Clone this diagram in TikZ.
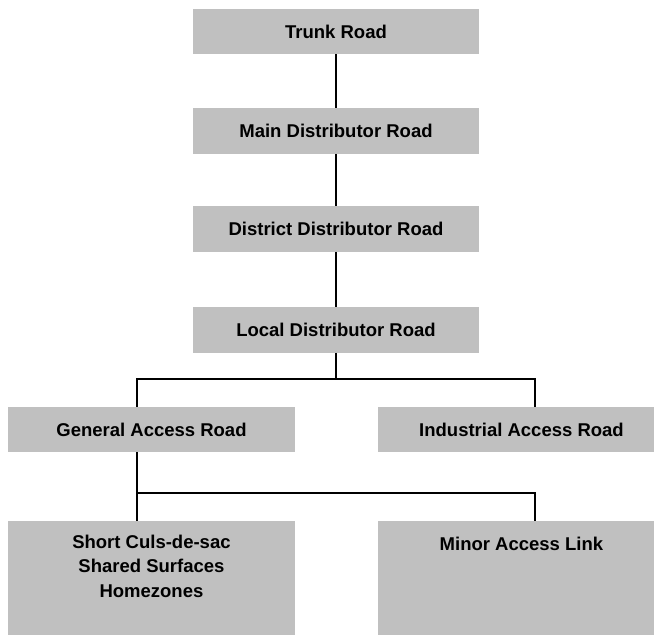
\documentclass[tikz,border=0pt]{standalone}
\usepackage{fontspec}
\setmainfont{Liberation Sans}
\definecolor{boxgray}{RGB}{192,192,192}
\begin{document}
\begin{tikzpicture}[x=1pt,y=-1pt,
  lbl/.style={font=\bfseries\fontsize{18.5}{24.3}\selectfont, align=center},
  roadbox/.style={fill=boxgray, minimum width=286.5pt, minimum height=45.5pt, inner sep=0pt, lbl},
  tallbox/.style={fill=boxgray, minimum width=286.5pt, minimum height=125pt, inner sep=0pt, anchor=north west},
  link/.style={line width=1.2pt, black}]
\clip (0,0) rectangle (654,635);
\fill[white] (0,0) rectangle (654,635);
% connectors
\coordinate (busL) at (137,379);
\coordinate (busR) at (535,379);
\coordinate (busL2) at (137,493);
\coordinate (busR2) at (535,493);
% boxes
\node[roadbox] (trunk) at (336,31.5) {Trunk Road};
\node[roadbox] (main) at (336,131) {Main Distributor Road};
\node[roadbox] (district) at (336,229) {District Distributor Road};
\node[roadbox] (local) at (336,330) {Local Distributor Road};
\node[roadbox] (gen) at (151.5,429.5) {General Access Road};
\node[roadbox] (ind) at (521.5,429.5) {Industrial Access Road};
\node[tallbox, label={[anchor=north, inner sep=0pt, yshift=-14pt, lbl]north:{Short Culs-de-sac\\Shared Surfaces\\Homezones}}] (short) at (8,521) {};
\node[tallbox, label={[anchor=north, inner sep=0pt, yshift=-15.5pt, lbl]north:{Minor Access Link}}] (minor) at (378,521) {};
% lines
\draw[link] (trunk.south) -- (main.north);
\draw[link] (main.south) -- (district.north);
\draw[link] (district.south) -- (local.north);
\draw[link] (local.south) -- (local.south |- busL);
\draw[link] (busL |- gen.north) -- (busL) -- (busR) -- (busR |- ind.north);
\draw[link] (busL2 |- gen.south) -- (busL2 |- short.north);
\draw[link] (busL2) -- (busR2) -- (busR2 |- minor.north);
\end{tikzpicture}
\end{document}
